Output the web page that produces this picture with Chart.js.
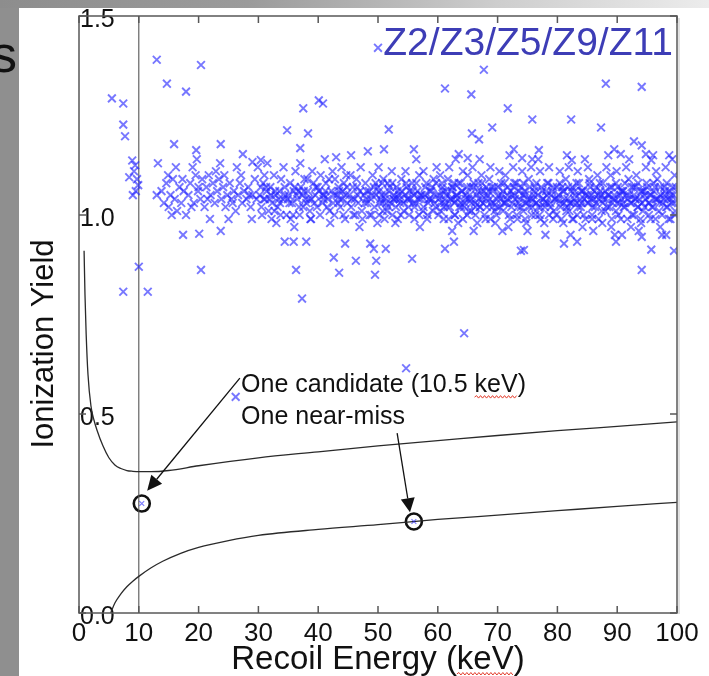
<!DOCTYPE html>
<html>
<head>
<meta charset="utf-8">
<script src="https://cdn.jsdelivr.net/npm/chart.js@4.4.1/dist/chart.umd.min.js"></script>
<style>
  html, body { margin: 0; padding: 0; }
  body {
    width: 709px; height: 676px; position: relative; overflow: hidden;
    background: #8f8f8f; font-family: "Liberation Sans", Arial, sans-serif;
  }
  #topband {
    position: absolute; left: 0; top: 0; width: 709px; height: 8px;
    background: linear-gradient(to right, #8d8d8d, #9b9b9b 35%, #cdcdcd 70%, #ececec);
  }
  #sheet { position: absolute; left: 19px; top: 8px; right: 0; bottom: 0; background: #fff; }
  #edge {
    position: absolute; left: -9px; top: 28px; font-size: 52px; line-height: 1;
    color: #111;
  }
  #plot { position: absolute; left: 0; top: 0; }
</style>
</head>
<body>
<div id="topband"></div>
<div id="sheet"></div>
<div id="edge">s</div>
<canvas id="plot" width="709" height="676"></canvas>
<script>
// ── data ────────────────────────────────────────────────────────────────
const energyTicks = [0, 10, 20, 30, 40, 50, 60, 70, 80, 90, 100];
const yieldTicks  = [0, 0.5, 1.0, 1.5];
const thresholdKeV = 10;

// nuclear-recoil band limits
const upperE = [0.85, 1.0, 1.2, 1.5, 2.0, 2.5, 3, 4, 5, 6, 7, 8, 9, 10, 12, 15, 20, 30, 40, 50, 60, 70, 80, 90, 100];
const upperY = [0.91, 0.80, 0.70, 0.60, 0.52, 0.485, 0.46, 0.42, 0.39, 0.372, 0.363, 0.358, 0.356, 0.355, 0.355, 0.358, 0.37, 0.39, 0.405, 0.42, 0.433, 0.446, 0.458, 0.469, 0.48];
const lowerE = [5.3, 6, 7, 8, 9, 10, 12, 14, 17, 20, 25, 30, 40, 50, 60, 70, 80, 90, 100];
const lowerY = [0.0, 0.025, 0.048, 0.066, 0.08, 0.092, 0.113, 0.13, 0.15, 0.165, 0.182, 0.195, 0.21, 0.222, 0.235, 0.246, 0.257, 0.268, 0.278];

// events inside the nuclear-recoil band
const candidates = [[10.5, 0.275], [56, 0.23]];

// scattered electron-recoil events
const highEvents = [
  [5.5,1.293],[7.4,1.28],[7.4,1.227],[7.7,1.198],[13.0,1.39],[20.4,1.377],[14.7,1.33],[17.9,1.31],
  [15.9,1.178],[19.6,1.163],[23.7,1.178],[27.4,1.153],[29,1.133],[30.4,1.138],[50,1.42],[61.2,1.318],
  [65.6,1.303],[37.5,1.268],[40.1,1.288],[40.8,1.28],[34.8,1.213],[38.3,1.205],[37,1.168],[51.8,1.215],
  [51,1.165],[48.3,1.16],[56,1.165],[56.4,1.14],[63.5,1.153],[65,1.143],[65.7,1.205],[43,1.145],
  [45.5,1.15],[67.7,1.365],[88.1,1.33],[94.1,1.322],[71.7,1.268],[75.8,1.24],[82.3,1.24],[69.1,1.22],
  [87.3,1.22],[66.9,1.19],[72.7,1.165],[74.1,1.143],[76.9,1.163],[75.8,1.14],[81.6,1.15],[82.4,1.138],
  [89.5,1.165],[90.6,1.153],[92.8,1.185],[94.1,1.175],[94.8,1.153],[95.7,1.138],[98.7,1.15],
  [8.9,1.137],[9.4,1.125],[8.4,1.095],[9.7,1.09],[9.9,1.075],[9.0,1.05],[9.5,1.06],[9.2,1.11],
  [13.2,1.13],[13.0,1.05]
];
const lowEvents = [
  [17.4,0.95],[20.1,0.953],[23.7,0.96],[10.0,0.87],[20.4,0.862],[7.4,0.807],[11.5,0.807],[36.3,0.862],
  [37.3,0.79],[42.6,0.893],[43.5,0.855],[46.3,0.885],[49.7,0.885],[49.5,0.85],[48.7,0.928],[49.3,0.915],
  [51.3,0.915],[55.7,0.89],[44.5,0.928],[38,0.933],[34.4,0.933],[35.9,0.933],[61.2,0.915],[62.7,0.933],
  [64.4,0.703],[73.9,0.91],[74.4,0.912],[81.1,0.928],[83.3,0.933],[89.8,0.933],[90.8,0.95],[95.7,0.913],
  [99.5,0.91],[94.1,0.862],[94.1,0.945],[98.2,0.95],[54.7,0.615],[26.2,0.543]
];
const bandLow = [ // 13–30 keV
  [13.8,1.06],[14.2,1.03],[14.6,1.08],[15.0,1.02],[15.3,1.05],[15.7,1.09],[16.0,1.04],[16.4,1.01],
  [16.8,1.07],[17.1,1.03],[17.5,1.06],[17.9,1.00],[18.3,1.05],[18.6,1.08],[19.0,1.12],[19.2,1.03],
  [19.5,1.10],[19.9,1.06],[20.3,1.04],[20.6,1.09],[21.0,1.02],[21.3,1.07],[21.7,1.10],[22.0,1.05],
  [22.4,1.08],[22.7,1.03],[23.1,1.06],[23.4,1.09],[23.8,1.04],[24.1,1.07],[24.5,1.02],[24.8,1.05],
  [25.2,1.08],[25.5,1.04],[25.9,1.06],[26.2,1.01],[26.6,1.05],[26.9,1.08],[27.3,1.03],[27.6,1.06],
  [28.0,1.04],[28.3,1.07],[28.7,1.02],[29.0,1.05],[29.4,1.09],[29.7,1.04],
  [14.9,1.10],[16.2,1.12],[17.3,1.09],[18.8,1.02],[20.0,1.07],[21.5,1.04],[22.9,1.11],[24.3,1.10],
  [25.7,1.03],[27.1,1.10],[28.5,1.05],[29.9,1.12],[19.7,1.14],[23.6,1.13],[26.4,1.12],[15.5,1.00],
  [21.9,0.99],[25.0,0.99],[28.9,0.99]
];
const bandMid = [ // 30–60 keV
  [30.2,1.05],[30.5,1.02],[30.8,1.08],[31.1,1.04],[31.4,1.06],[31.7,1.01],[32.0,1.07],[32.3,1.03],
  [32.6,1.10],[32.9,1.05],[33.2,1.02],[33.5,1.06],[33.8,1.09],[34.1,1.04],[34.4,1.07],[34.7,1.00],
  [35.0,1.05],[35.3,1.08],[35.6,1.03],[35.9,1.06],[36.2,1.11],[36.5,1.04],[36.8,1.02],[37.1,1.07],
  [37.4,1.05],[37.7,1.09],[38.0,1.03],[38.3,1.06],[38.6,1.01],[38.9,1.04],[39.2,1.08],[39.5,1.05],
  [39.8,1.02],[40.1,1.06],[40.4,1.10],[40.7,1.03],[41.0,1.05],[41.3,1.08],[41.6,1.04],[41.9,1.01],
  [42.2,1.06],[42.5,1.03],[42.8,1.09],[43.1,1.05],[43.4,1.07],[43.7,1.02],[44.0,1.04],[44.3,1.08],
  [44.6,1.05],[44.9,1.03],
  [30.4,1.07],[31.0,1.10],[31.9,1.04],[32.7,1.01],[33.4,1.04],[34.2,1.12],[35.2,1.03],[35.8,1.00],
  [36.7,1.06],[37.5,1.02],[38.4,1.04],[39.0,1.11],[39.9,1.07],[40.8,1.05],[41.5,1.02],[42.4,1.11],
  [43.3,1.03],[44.1,1.06],[44.7,1.10],[33.0,0.98],[36.0,0.97],[38.8,0.99],[42.0,0.98],[44.5,0.99],
  [31.5,1.13],[37.0,1.13],[41.1,1.14],[43.9,1.12],
  [30.9,1.04],[32.1,1.05],[33.6,1.03],[34.9,1.04],[36.4,1.05],[37.9,1.04],[39.4,1.03],[40.9,1.04],
  [42.6,1.05],[43.6,1.04],
  [30.6,1.00],[31.3,1.07],[32.2,0.99],[32.8,1.06],[33.7,1.00],[34.5,1.05],[35.4,0.99],[36.1,1.07],
  [36.9,1.00],[37.6,1.06],[38.2,1.09],[38.7,0.99],[39.6,1.07],[40.3,1.00],[41.2,1.06],[41.8,1.09],
  [42.7,1.00],[43.5,1.06],[44.2,1.00],[44.8,1.07],
  [45.2,1.05],[45.5,1.02],[45.8,1.07],[46.1,1.04],[46.4,1.09],[46.7,1.03],[47.0,1.06],[47.3,1.01],
  [47.6,1.05],[47.9,1.08],[48.2,1.03],[48.5,1.06],[48.8,1.04],[49.1,1.10],[49.4,1.02],[49.7,1.05],
  [50.0,1.07],[50.3,1.03],[50.6,1.05],[50.9,1.09],[51.2,1.04],[51.5,1.01],[51.8,1.06],[52.1,1.03],
  [52.4,1.08],[52.7,1.05],[53.0,1.02],[53.3,1.06],[53.6,1.04],[53.9,1.09],[54.2,1.03],[54.5,1.05],
  [54.8,1.07],[55.1,1.02],[55.4,1.04],[55.7,1.08],[56.0,1.05],[56.3,1.03],[56.6,1.06],[56.9,1.10],
  [57.2,1.04],[57.5,1.01],[57.8,1.05],[58.1,1.08],[58.4,1.03],[58.7,1.06],[59.0,1.04],[59.3,1.09],
  [59.6,1.02],[59.9,1.05],
  [45.4,1.10],[46.2,1.00],[47.1,1.12],[47.8,1.03],[48.6,1.00],[49.3,1.07],[50.1,1.12],[50.8,1.01],
  [51.6,1.08],[52.3,1.11],[53.1,1.04],[53.8,1.00],[54.6,1.11],[55.3,1.06],[56.1,0.99],[56.8,1.04],
  [57.6,1.11],[58.3,1.00],[59.1,1.07],[59.8,1.12],[46.9,0.97],[52.9,0.98],[57.0,0.97],[49.9,0.98],
  [45.6,1.04],[46.6,1.05],[48.0,1.04],[49.0,1.05],[50.4,1.04],[51.4,1.03],[52.6,1.04],[53.5,1.05],
  [54.9,1.04],[55.9,1.03],[57.3,1.05],[58.6,1.04],[59.5,1.03],
  [45.9,1.00],[46.5,1.07],[47.4,0.99],[48.1,1.06],[48.9,1.00],[49.6,1.08]
];
const bandHigh = [ // 60–100 keV
  [60.2,1.04],[60.5,1.01],[60.8,1.07],[61.1,1.03],[61.4,1.05],[61.7,1.09],[62.0,1.02],[62.3,1.06],
  [62.6,1.04],[62.9,1.00],[63.2,1.05],[63.5,1.08],[63.8,1.03],[64.1,1.06],[64.4,1.02],[64.7,1.04],
  [65.0,1.10],[65.3,1.05],[65.6,1.01],[65.9,1.07],[66.2,1.03],[66.5,1.05],[66.8,1.08],[67.1,1.02],
  [67.4,1.04],[67.7,1.06],[68.0,0.99],[68.3,1.05],[68.6,1.09],[68.9,1.03],[69.2,1.06],[69.5,1.01],
  [69.8,1.04],[70.1,1.07],[70.4,1.02],[70.7,1.05],[71.0,1.03],[71.3,1.10],[71.6,1.04],[71.9,1.00],
  [72.2,1.06],[72.5,1.03],[72.8,1.05],[73.1,1.08],[73.4,1.02],[73.7,1.04],[74.0,1.07],[74.3,1.01],
  [74.6,1.05],[74.9,1.03],[75.2,1.09],[75.5,1.04],[75.8,1.02],[76.1,1.06],[76.4,1.03],[76.7,1.05],
  [77.0,1.00],[77.3,1.07],[77.6,1.04],[77.9,1.02],[78.2,1.05],[78.5,1.08],[78.8,1.03],[79.1,1.06],
  [79.4,1.01],[79.7,1.04],
  [60.4,1.10],[61.0,0.99],[61.9,1.12],[62.7,1.08],[63.4,0.98],[64.2,1.11],[64.9,1.00],[65.8,1.12],
  [66.6,0.98],[67.3,1.10],[68.1,1.07],[68.8,1.12],[69.6,0.98],[70.3,1.11],[71.1,1.08],[71.8,0.97],
  [72.6,1.12],[73.3,0.99],[74.1,1.11],[74.8,0.98],[75.6,1.12],[76.3,1.00],[77.1,1.11],[77.8,0.98],
  [78.6,1.12],[79.3,0.99],[62.4,0.96],[66.0,0.96],[70.8,0.96],[75.0,0.96],[78.0,0.95],[63.0,1.14],
  [67.0,1.14],[72.0,1.15],[76.8,1.14],
  [60.6,1.03],[61.2,1.04],[61.6,1.02],[62.2,1.04],[62.8,1.03],[63.3,1.04],[63.9,1.02],[64.5,1.03],
  [65.1,1.04],[65.7,1.03],[66.3,1.02],[66.9,1.04],[67.5,1.03],[68.2,1.02],[68.7,1.04],[69.3,1.03],
  [69.9,1.02],[70.5,1.04],[71.2,1.03],[71.7,1.05],[72.3,1.02],[72.9,1.04],[73.5,1.03],[74.2,1.05],
  [74.7,1.03],[75.3,1.02],[75.9,1.04],[76.5,1.03],[77.2,1.02],[77.7,1.04],[78.3,1.03],[78.9,1.02],
  [79.5,1.04],[60.9,1.06],[62.5,1.07],[64.0,1.06],[65.5,1.07],[67.2,1.06],[69.0,1.07],[70.9,1.06],
  [72.7,1.07],[74.5,1.06],[76.2,1.07],[78.1,1.06],[79.9,1.07],
  [80.2,1.05],[80.5,1.02],[80.8,1.07],[81.1,1.03],[81.4,1.09],[81.7,1.04],[82.0,1.01],[82.3,1.06],
  [82.6,1.03],[82.9,1.05],[83.2,1.08],[83.5,1.02],[83.8,1.04],[84.1,1.06],[84.4,1.00],[84.7,1.05],
  [85.0,1.03],[85.3,1.09],[85.6,1.04],[85.9,1.02],[86.2,1.06],[86.5,1.03],[86.8,1.05],[87.1,1.08],
  [87.4,1.01],[87.7,1.04],[88.0,1.06],[88.3,1.02],[88.6,1.05],[88.9,1.10],[89.2,1.03],[89.5,1.05],
  [89.8,1.01],[90.1,1.07],[90.4,1.03],[90.7,1.04],[91.0,1.06],[91.3,1.02],[91.6,1.05],[91.9,1.09],
  [92.2,1.03],[92.5,1.00],[92.8,1.05],[93.1,1.07],[93.4,1.02],[93.7,1.04],[94.0,1.06],[94.3,1.01],
  [94.6,1.05],[94.9,1.08],[95.2,1.03],[95.5,1.05],[95.8,1.02],[96.1,1.06],[96.4,1.04],[96.7,1.09],
  [97.0,1.01],[97.3,1.05],[97.6,1.03],[97.9,1.07],[98.2,1.02],[98.5,1.04],[98.8,1.06],[99.1,1.03],
  [99.4,1.05],[99.7,1.01],
  [80.4,1.11],[81.0,0.98],[81.9,1.12],[82.7,0.99],[83.4,1.11],[84.2,0.97],[85.1,1.12],[85.8,0.99],
  [86.7,1.10],[87.5,0.98],[88.2,1.12],[89.0,0.97],[89.9,1.11],[90.6,0.99],[91.5,1.12],[92.3,0.97],
  [93.2,1.10],[94.0,0.98],[94.8,1.12],[95.6,0.99],[96.5,1.11],[97.2,0.97],[98.1,1.12],[98.9,0.99],
  [99.6,1.10],[82.2,0.95],[86.0,0.96],[89.6,0.95],[93.6,0.96],[97.5,0.95],[84.6,1.14],[88.5,1.15],
  [92.0,1.14],[96.0,1.15],[99.2,1.14],
  [80.6,1.03],[81.2,1.04],[81.6,1.02],[82.1,1.03],[82.8,1.04],[83.3,1.03],[83.9,1.02],[84.5,1.04],
  [85.2,1.03],[85.7,1.05],[86.3,1.02],[86.9,1.04],[87.6,1.03],[88.1,1.04],[88.7,1.02],[89.3,1.04],
  [90.0,1.03],[90.5,1.05],[91.1,1.02],[91.8,1.04],[92.4,1.03],[93.0,1.04],[93.5,1.02],[94.2,1.03],
  [94.7,1.04],[95.4,1.03],[96.0,1.02],[96.6,1.04],[97.1,1.03],[97.8,1.04],[98.4,1.02],[99.0,1.04],
  [99.5,1.03],[80.9,1.06],[82.5,1.07],[84.0,1.06],[85.5,1.07],[87.2,1.06],[89.1,1.07],[90.9,1.06],
  [92.7,1.07],[94.5,1.06],[96.3,1.07],[98.0,1.06],[99.8,1.07]
];
const bandCore = [ // densest part, 50–100 keV
  [50.2,1.00],[50.2,1.06],[50.7,1.03],[50.7,1.08],[51.1,0.99],[51.3,1.05],[51.8,1.02],[52.0,1.07],
  [52.4,1.00],[52.6,1.04],[53.1,1.07],[53.3,0.99],[53.7,1.03],[54.0,1.06],[54.3,1.01],[54.7,1.08],
  [55.0,1.04],[55.2,1.00],[55.8,1.06],[56.1,1.02],[56.4,1.08],[56.9,1.00],[57.1,1.05],[57.6,1.02],
  [57.9,1.07],[58.2,0.99],[58.5,1.04],[58.9,1.06],[59.2,1.01],[59.7,1.08],
  [60.1,1.00],[60.3,1.05],[60.7,1.08],[61.0,1.02],[61.3,1.06],[61.8,0.99],[62.1,1.04],[62.4,1.07],
  [62.8,1.00],[63.1,1.05],[63.6,1.02],[63.8,1.08],[64.2,0.99],[64.6,1.05],[64.9,1.07],[65.2,1.01],
  [65.6,1.04],[66.0,1.08],[66.3,1.00],[66.7,1.06],[67.0,1.02],[67.4,1.08],[67.8,1.00],[68.0,1.04],
  [68.5,1.06],[68.8,0.99],[69.1,1.02],[69.4,1.07],[69.8,1.00],[70.2,1.05],[70.6,1.08],[70.9,1.01],
  [71.4,1.03],[71.7,1.07],[72.1,0.99],[72.4,1.05],[72.8,1.08],[73.2,1.00],[73.6,1.06],[73.9,1.02],
  [74.3,1.08],[74.6,0.99],[75.0,1.04],[75.4,1.07],[75.7,1.00],[76.0,1.05],[76.5,1.08],[76.8,1.02],
  [77.2,0.99],[77.5,1.06],[77.9,1.03],[78.3,1.08],[78.6,1.00],[79.0,1.05],[79.3,1.07],[79.8,1.00],
  [80.1,1.04],[80.4,1.08],[80.7,0.99],[81.1,1.06],[81.5,1.01],[81.8,1.07],[82.2,1.03],[82.5,0.99],
  [82.9,1.06],[83.3,1.00],[83.6,1.08],[84.0,1.03],[84.3,1.06],[84.7,0.99],[85.1,1.05],[85.4,1.08],
  [85.8,1.00],[86.1,1.04],[86.5,1.07],[86.9,0.99],[87.3,1.05],[87.6,1.08],[88.0,1.01],[88.4,1.05],
  [88.8,1.07],[89.1,0.99],[89.5,1.04],[89.8,1.08],[90.2,1.00],[90.6,1.06],[91.0,1.03],[91.3,1.08],
  [91.7,0.99],[92.0,1.05],[92.4,1.07],[92.8,1.00],[93.1,1.04],[93.5,1.08],[93.9,0.99],[94.2,1.06],
  [94.6,1.02],[95.0,1.07],[95.3,1.00],[95.7,1.05],[96.1,1.08],[96.4,0.99],[96.8,1.04],[97.2,1.07],
  [97.5,1.00],[97.9,1.05],[98.3,1.08],[98.6,0.99],[99.0,1.05],[99.3,1.07],[99.7,1.00]
];

// ── helpers ─────────────────────────────────────────────────────────────
const FONT = '"Liberation Sans", Arial, sans-serif';
const toPts = pairs => pairs.map(([x, y]) => ({ x, y }));
const zip = (xs, ys) => xs.map((x, i) => ({ x, y: ys[i] }));

function drawArrow(ctx, x0, y0, x1, y1, len, half) {
  const a = Math.atan2(y1 - y0, x1 - x0);
  const bx = x1 - len * Math.cos(a), by = y1 - len * Math.sin(a);
  ctx.beginPath();
  ctx.moveTo(x0, y0);
  ctx.lineTo(bx, by);
  ctx.stroke();
  ctx.beginPath();
  ctx.moveTo(x1, y1);
  ctx.lineTo(bx + half * Math.sin(a), by - half * Math.cos(a));
  ctx.lineTo(bx - half * Math.sin(a), by + half * Math.cos(a));
  ctx.closePath();
  ctx.fill();
}

// red spell-check squiggle
function squiggle(ctx, x0, x1, y) {
  ctx.save();
  ctx.strokeStyle = '#e23a2a';
  ctx.lineWidth = 1;
  ctx.beginPath();
  let up = true;
  ctx.moveTo(x0, y);
  for (let x = x0 + 2; x <= x1; x += 2) {
    ctx.lineTo(x, up ? y - 1.5 : y + 1);
    up = !up;
  }
  ctx.stroke();
  ctx.restore();
}

// frame, inward ticks, titles and the annotations
const decorations = {
  id: 'decorations',
  afterDatasetsDraw(chart) {
    const { ctx, scales: { x, y } } = chart;
    ctx.save();
    ctx.strokeStyle = '#111';
    ctx.fillStyle = '#111';
    ctx.lineWidth = 1.3;
    drawArrow(ctx, x.getPixelForValue(26.9), y.getPixelForValue(0.59),
      x.getPixelForValue(11.4), y.getPixelForValue(0.307), 15, 7);
    drawArrow(ctx, x.getPixelForValue(53.2), y.getPixelForValue(0.452),
      x.getPixelForValue(55.35), y.getPixelForValue(0.253), 14, 7);

    ctx.font = `25px ${FONT}`;
    ctx.textBaseline = 'alphabetic';
    ctx.textAlign = 'left';
    const tx = x.getPixelForValue(27.1);
    const ty1 = y.getPixelForValue(0.555);
    ctx.fillText('One candidate (10.5 keV)', tx, ty1);
    ctx.fillText('One near-miss', tx, y.getPixelForValue(0.475));
    const k0 = tx + ctx.measureText('One candidate (10.5 ').width;
    squiggle(ctx, k0, k0 + ctx.measureText('keV').width, ty1 + 5);
    ctx.restore();
  },
  afterDraw(chart) {
    const { ctx, chartArea: a, scales: { x, y } } = chart;
    ctx.save();
    ctx.strokeStyle = '#585858';
    ctx.lineWidth = 1.5;
    ctx.strokeRect(a.left, a.top, a.right - a.left, a.bottom - a.top);
    ctx.strokeStyle = '#c4c4c4';
    ctx.lineWidth = 1;
    ctx.beginPath();
    ctx.moveTo(a.right + 2, a.top + 2);
    ctx.lineTo(a.right + 2, a.bottom + 1);
    ctx.stroke();

    ctx.strokeStyle = '#585858';
    ctx.lineWidth = 1.5;
    ctx.beginPath();
    for (const v of energyTicks) {
      const px = x.getPixelForValue(v);
      ctx.moveTo(px, a.bottom); ctx.lineTo(px, a.bottom - 7);
      ctx.moveTo(px, a.top); ctx.lineTo(px, a.top + 7);
    }
    for (const v of yieldTicks) {
      const py = y.getPixelForValue(v);
      ctx.moveTo(a.left, py); ctx.lineTo(a.left + 7, py);
      ctx.moveTo(a.right, py); ctx.lineTo(a.right - 7, py);
    }
    ctx.stroke();

    // detector label
    ctx.fillStyle = '#3d3db6';
    ctx.font = `39px ${FONT}`;
    ctx.textAlign = 'right';
    ctx.textBaseline = 'alphabetic';
    ctx.fillText('Z2/Z3/Z5/Z9/Z11', a.right - 4, 55);

    // axis titles
    ctx.fillStyle = '#111';
    ctx.font = `33px ${FONT}`;
    ctx.textAlign = 'center';
    const xt = 'Recoil Energy (keV)';
    const cx = (a.left + a.right) / 2;
    ctx.fillText(xt, cx, 669);
    const w = ctx.measureText(xt).width;
    const ks = cx - w / 2 + ctx.measureText('Recoil Energy (').width;
    squiggle(ctx, ks, ks + ctx.measureText('keV').width, 674);

    ctx.font = `31px ${FONT}`;
    ctx.translate(53, 344);
    ctx.rotate(-Math.PI / 2);
    ctx.fillText('Ionization Yield', 0, 0);
    ctx.restore();
  }
};

const eventStyle = {
  type: 'scatter',
  pointStyle: 'crossRot',
  pointRadius: 5.5,
  borderWidth: 1.9,
  borderColor: 'rgba(36,36,255,0.62)',
  backgroundColor: 'rgba(0,0,0,0)',
};

new Chart(document.getElementById('plot'), {
  type: 'scatter',
  data: {
    datasets: [
      { ...eventStyle, label: 'band 13-30', data: toPts(bandLow) },
      { ...eventStyle, label: 'band 30-60', data: toPts(bandMid) },
      { ...eventStyle, label: 'band 60-100', data: toPts(bandHigh) },
      { ...eventStyle, label: 'band core', data: toPts(bandCore) },
      { ...eventStyle, label: 'high', data: toPts(highEvents) },
      { ...eventStyle, label: 'low', data: toPts(lowEvents) },
      { ...eventStyle, label: 'candidates x', data: toPts(candidates), pointRadius: 3.4, borderWidth: 1.1 },
      {
        type: 'line', label: 'upper', data: zip(upperE, upperY),
        borderColor: '#2a2a2a', borderWidth: 1.3, pointRadius: 0,
        cubicInterpolationMode: 'monotone', fill: false,
      },
      {
        type: 'line', label: 'lower', data: zip(lowerE, lowerY),
        borderColor: '#2a2a2a', borderWidth: 1.3, pointRadius: 0,
        cubicInterpolationMode: 'monotone', fill: false,
      },
      {
        type: 'line', label: 'threshold',
        data: [{ x: thresholdKeV, y: 0 }, { x: thresholdKeV, y: 1.5 }],
        borderColor: '#555', borderWidth: 1.1, pointRadius: 0,
      },
      {
        type: 'scatter', label: 'candidates', data: toPts(candidates),
        pointStyle: 'circle', pointRadius: 8, borderWidth: 2.6,
        borderColor: '#111', backgroundColor: 'rgba(0,0,0,0)',
      },
    ],
  },
  options: {
    responsive: false,
    animation: false,
    events: [],
    layout: { padding: { left: 19, right: 32, top: 13, bottom: 0 } },
    plugins: { legend: { display: false }, tooltip: { enabled: false } },
    scales: {
      x: {
        type: 'linear', min: 0, max: 100,
        afterFit: s => { s.height = 63; },
        afterBuildTicks: s => { s.ticks = energyTicks.map(value => ({ value })); },
        grid: { display: false, drawTicks: false },
        border: { display: false },
        ticks: {
          autoSkip: false, maxRotation: 0, padding: 5,
          color: '#111', font: { family: FONT, size: 26 },
          callback: v => String(v),
        },
      },
      y: {
        type: 'linear', min: 0, max: 1.5,
        afterFit: s => { s.width = 60; },
        afterBuildTicks: s => { s.ticks = yieldTicks.map(value => ({ value })); },
        grid: { display: false, drawTicks: false },
        border: { display: false },
        ticks: {
          mirror: true, padding: 1, labelOffset: 4,
          color: '#111', font: { family: FONT, size: 25 },
          callback: v => v.toFixed(1),
        },
      },
    },
  },
  plugins: [decorations],
});
</script>
</body>
</html>
